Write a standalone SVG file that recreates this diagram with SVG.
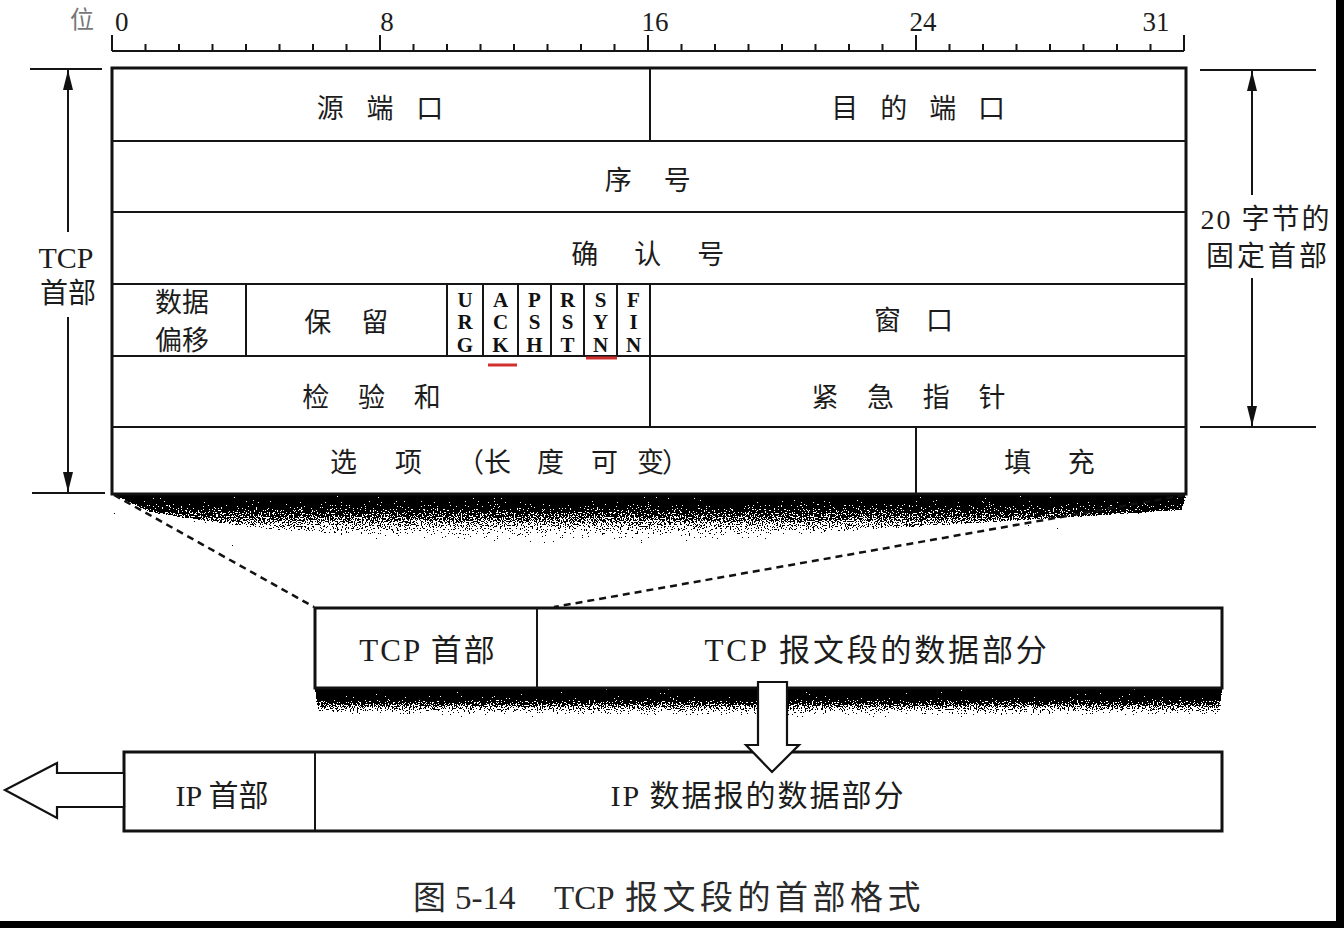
<svg xmlns="http://www.w3.org/2000/svg" width="1344" height="928" viewBox="0 0 1344 928">
<style>
.t{font-family:"Liberation Serif","Noto Sans CJK SC",serif;fill:#1c1c1c}
.c{text-anchor:middle}
.f27{font-size:27px}
.f30{font-size:30px}
.flag{font-family:"Liberation Serif",serif;font-weight:bold;font-size:21px;text-anchor:middle;fill:#111}
.ln{stroke:#151515;stroke-width:2;fill:none}
.thick{stroke:#111;stroke-width:3;fill:#fff}
.dash{stroke:#111;stroke-width:2.5;stroke-dasharray:7 5;fill:none}
.red{stroke:#d0302c;stroke-width:3}
.hollow{fill:#fff;stroke:#111;stroke-width:2.2;stroke-linejoin:miter}
</style>
<defs>
<marker id="ah" markerUnits="userSpaceOnUse" markerWidth="22" markerHeight="12" refX="20" refY="5" orient="auto-start-reverse">
<path d="M0,0 L20,5 L0,10 z" fill="#111"/>
</marker>
<linearGradient id="fadeA" x1="0" y1="0" x2="0" y2="1">
<stop offset="0" stop-color="#000" stop-opacity="1"/>
<stop offset="0.25" stop-color="#000" stop-opacity="0.78"/>
<stop offset="1" stop-color="#000" stop-opacity="0"/>
</linearGradient>
<linearGradient id="fadeB" x1="0" y1="0" x2="0" y2="1">
<stop offset="0" stop-color="#000" stop-opacity="1"/>
<stop offset="0.35" stop-color="#000" stop-opacity="0.85"/>
<stop offset="1" stop-color="#000" stop-opacity="0"/>
</linearGradient>
<filter id="stipple" x="0" y="0" width="1" height="1" color-interpolation-filters="sRGB">
<feTurbulence type="fractalNoise" baseFrequency="0.75" numOctaves="2" seed="5" result="noise"/>
<feColorMatrix in="noise" type="matrix" values="0 0 0 0 0  0 0 0 0 0  0 0 0 0 0  1 0 0 0 0" result="na"/>
<feComposite in="SourceAlpha" in2="na" operator="arithmetic" k2="1" k3="-1.4" k4="0.7" result="d"/>
<feComponentTransfer in="d">
<feFuncR type="linear" slope="0" intercept="0"/>
<feFuncG type="linear" slope="0" intercept="0"/>
<feFuncB type="linear" slope="0" intercept="0"/>
<feFuncA type="discrete" tableValues="0 1"/>
</feComponentTransfer>
</filter>
</defs>

<rect width="1344" height="928" fill="#fff"/>

<!-- stipple shadows -->
<g id="shadows">
<path d="M113,494 L1186,494 L1182,510 Q1000,522 800,534 Q600,552 420,542 Q260,532 150,512 Z" fill="url(#fadeA)" filter="url(#stipple)"/>
<path d="M315,688 L1222,688 L1220,714 Q900,720 700,717 Q500,721 318,713 Z" fill="url(#fadeB)" filter="url(#stipple)"/>
</g>

<!-- ruler -->
<g id="ruler">
<path class="ln" d="M112,51 H1184 M112,35 V51 M145.5,44 V51 M179,44 V51 M212.5,44 V51 M246,44 V51 M279.5,44 V51 M313,44 V51 M346.5,44 V51 M380,35 V51 M413.5,44 V51 M447,44 V51 M480.5,44 V51 M514,44 V51 M547.5,44 V51 M581,44 V51 M614.5,44 V51 M648,35 V51 M681.5,44 V51 M715,44 V51 M748.5,44 V51 M782,44 V51 M815.5,44 V51 M849,44 V51 M882.5,44 V51 M916,35 V51 M949.5,44 V51 M983,44 V51 M1016.5,44 V51 M1050,44 V51 M1083.5,44 V51 M1117,44 V51 M1150.5,44 V51 M1184,35 V51"/>
<text class="t" x="82" y="28" font-size="24" text-anchor="middle" style="fill:#777">位</text>
<text class="t f27" x="115" y="31">0</text>
<text class="t f27 c" x="387" y="31">8</text>
<text class="t f27 c" x="655" y="31">16</text>
<text class="t f27 c" x="923" y="31">24</text>
<text class="t f27 c" x="1156" y="31">31</text>
</g>

<!-- header table grid -->
<g id="header-table">
<rect class="thick" x="112" y="68" width="1074" height="426"/>
<path class="ln" d="M112,141 H1186 M112,212 H1186 M112,284 H1186 M112,356 H1186 M112,427 H1186 M650,68 V141 M246,284 V356 M447,284 V356 M483,284 V356 M518,284 V356 M551,284 V356 M584,284 V356 M617,284 V356 M650,284 V427 M916,427 V494" stroke-width="2.2"/>
</g>

<g id="src-port"><text class="t f27 c" x="384" y="118" letter-spacing="8">源 端 口</text></g>
<g id="dst-port"><text class="t f27 c" x="922" y="118" letter-spacing="7.6">目 的 端 口</text></g>
<g id="seq"><text class="t f27 c" x="654" y="190" letter-spacing="12.6">序 号</text></g>
<g id="ack-num"><text class="t f27 c" x="655" y="264" letter-spacing="14.6">确 认 号</text></g>
<g id="data-offset"><text class="t f27 c" x="182" y="312">数据</text><text class="t f27 c" x="182" y="350">偏移</text></g>
<g id="reserved"><text class="t f27 c" x="352" y="332" letter-spacing="11.6">保 留</text></g>
<g id="flag-urg"><text class="flag" x="465" y="307">U</text><text class="flag" x="465" y="329">R</text><text class="flag" x="465" y="352">G</text></g>
<g id="flag-ack"><text class="flag" x="500.5" y="307">A</text><text class="flag" x="500.5" y="329">C</text><text class="flag" x="500.5" y="352">K</text><line class="red" x1="488" y1="365" x2="517" y2="365"/></g>
<g id="flag-psh"><text class="flag" x="534.5" y="307">P</text><text class="flag" x="534.5" y="329">S</text><text class="flag" x="534.5" y="352">H</text></g>
<g id="flag-rst"><text class="flag" x="567.5" y="307">R</text><text class="flag" x="567.5" y="329">S</text><text class="flag" x="567.5" y="352">T</text></g>
<g id="flag-syn"><text class="flag" x="600.5" y="307">S</text><text class="flag" x="600.5" y="329">Y</text><text class="flag" x="600.5" y="352">N</text><line class="red" x1="586" y1="358" x2="617" y2="358"/></g>
<g id="flag-fin"><text class="flag" x="633.5" y="307">F</text><text class="flag" x="633.5" y="329">I</text><text class="flag" x="633.5" y="352">N</text></g>
<g id="window"><text class="t f27 c" x="918" y="330" letter-spacing="9.1">窗 口</text></g>
<g id="checksum"><text class="t f27 c" x="377" y="407" letter-spacing="11">检 验 和</text></g>
<g id="urgent-ptr"><text class="t f27 c" x="914" y="407" letter-spacing="11">紧 急 指 针</text></g>
<g id="options"><text class="t f27" y="472"><tspan x="330">选</tspan> <tspan x="395">项</tspan> <tspan x="457">（</tspan><tspan x="484">长</tspan> <tspan x="537">度</tspan> <tspan x="591">可</tspan> <tspan x="637">变</tspan><tspan x="662">）</tspan></text></g>
<g id="padding"><text class="t f27 c" x="1057" y="472" letter-spacing="15">填 充</text></g>

<!-- dimension labels -->
<g id="tcp-header-label">
<path class="ln" d="M30,69 H102 M32,493 H105"/>
<text class="t c" x="66" y="268" font-size="30">TCP</text>
<text class="t c" x="68" y="303" font-size="28">首部</text>
</g>
<g id="fixed-header-label">
<path class="ln" d="M1200,70 H1316 M1200,427 H1316"/>
<text class="t c" x="1266" y="229" font-size="28" letter-spacing="2">20 字节的</text>
<text class="t c" x="1268" y="266" font-size="28" letter-spacing="3">固定首部</text>
</g>

<!-- TCP segment -->
<g id="tcp-segment">
<rect class="thick" x="315" y="608" width="907" height="80"/>
<line class="ln" x1="537" y1="608" x2="537" y2="688"/>
<text class="t c" x="428" y="661" font-size="31" letter-spacing="2">TCP 首部</text>
<text class="t c" x="877" y="661" font-size="31" letter-spacing="2.8">TCP 报文段的数据部分</text>
</g>

<!-- IP datagram -->
<g id="ip-datagram">
<rect class="thick" x="124" y="752" width="1098" height="79"/>
<line class="ln" x1="315" y1="752" x2="315" y2="831"/>
<text class="t f30 c" x="222" y="806">IP 首部</text>
<text class="t f30 c" x="758" y="806" letter-spacing="2">IP 数据报的数据部分</text>
</g>

<!-- connectors -->
<g id="connectors">
<line class="ln" x1="68" y1="70" x2="68" y2="232" marker-start="url(#ah)"/>
<line class="ln" x1="68" y1="317" x2="68" y2="492" marker-end="url(#ah)"/>
<line class="ln" x1="1252" y1="71" x2="1252" y2="195" marker-start="url(#ah)"/>
<line class="ln" x1="1252" y1="278" x2="1252" y2="426" marker-end="url(#ah)"/>
<line class="dash" x1="114" y1="495" x2="314" y2="607"/>
<line class="dash" x1="1185" y1="495" x2="554" y2="607"/>
<polygon class="hollow" points="758,682 787,682 787,745 799,745 772,772 746,745 758,745"/>
<polygon class="hollow" points="124,773 57,773 57,763 5,790 57,818 57,807 124,807"/>
</g>

<g id="caption">
<text class="t" y="909" font-size="33" style="fill:#2a2a2a"><tspan x="413">图 </tspan><tspan x="455">5-14　</tspan><tspan x="554">TCP </tspan><tspan x="625" letter-spacing="4.5">报文段的首部格式</tspan></text>
</g>

<!-- scan border -->
<rect x="1336" y="0" width="8" height="928" fill="#000"/>
<rect x="0" y="921" width="1344" height="7" fill="#000"/>
</svg>
